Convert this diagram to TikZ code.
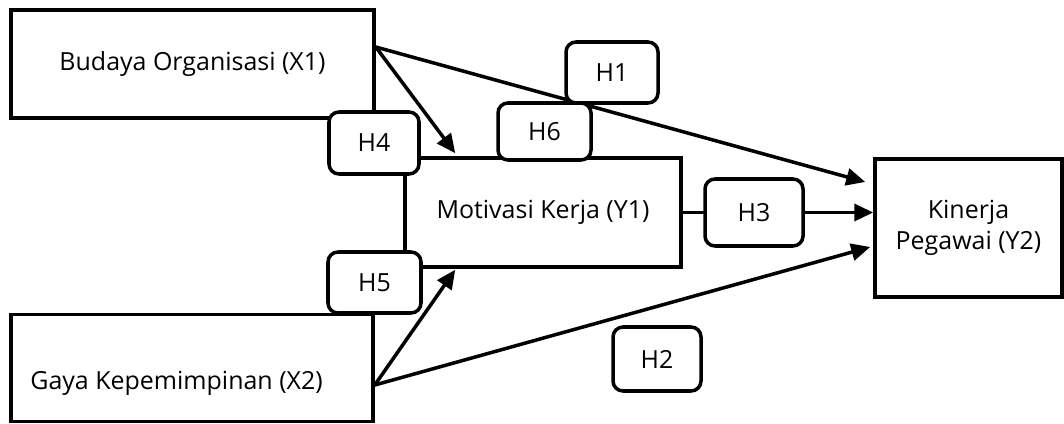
\documentclass[tikz,border=0pt]{standalone}
\usepackage{fontspec}
\setmainfont{Open Sans}
\usetikzlibrary{arrows.meta}

\begin{document}
\begin{tikzpicture}[
    var/.style={draw, line width=2pt, fill=white, inner sep=0pt},
    hyp/.style={draw, line width=2pt, fill=white, rounded corners=0.2cm, inner sep=0pt},
    arr/.style={line width=2pt, -{Triangle[length=0.38cm,width=0.34cm]}},
    font=\fontsize{14.2}{18}\selectfont
  ]
    \useasboundingbox (0,0) rectangle (21.28,8.46);
    % variables
    \node[var, minimum width=7.26cm, minimum height=2.16cm] (x1) at (3.85,7.18) {Budaya Organisasi (X1)};
    \node[var, minimum width=7.24cm, minimum height=2.14cm] (x2) at (3.84,1.10) {};
    \node[anchor=west, inner sep=0pt] (x2txt) at (0.60,0.80) {Gaya Kepemimpinan (X2)};
    \node[var, minimum width=5.52cm, minimum height=2.18cm] (y1) at (10.86,4.21) {Motivasi Kerja (Y1)};
    \node[var, minimum width=3.74cm, minimum height=2.76cm, align=center] (y2) at (19.37,3.90) {Kinerja\\Pegawai (Y2)};
    % paths
    \draw[arr] ([yshift=0.34cm]x1.east) -- ([xshift=-0.16cm,yshift=0.92cm]y2.west);
    \draw[arr] ([yshift=0.34cm]x1.east) -- ([xshift=1.04cm,yshift=0.06cm]y1.north west);
    \draw[arr] ([yshift=-0.34cm]x2.east) -- ([xshift=1.04cm,yshift=-0.02cm]y1.south west);
    \draw[arr] ([yshift=-0.34cm]x2.east) -- ([xshift=-0.06cm,yshift=-0.38cm]y2.west);
    \draw[arr] (y1.east) -- (y1.east -| y2.west);
    % hypotheses
    \node[hyp, minimum width=1.84cm, minimum height=1.22cm] (h1) at (12.24,7.01) {H1};
    \node[hyp, minimum width=1.76cm, minimum height=1.28cm] (h2) at (13.14,1.28) {H2};
    \node[hyp, minimum width=1.96cm, minimum height=1.34cm] (h3) at (15.08,4.21) {H3};
    \node[hyp, minimum width=1.80cm, minimum height=1.24cm] (h4) at (7.48,5.60) {H4};
    \node[hyp, minimum width=1.86cm, minimum height=1.22cm] (h5) at (7.49,2.81) {H5};
    \node[hyp, minimum width=1.86cm, minimum height=1.14cm] (h6) at (10.89,5.83) {H6};
\end{tikzpicture}
\end{document}
